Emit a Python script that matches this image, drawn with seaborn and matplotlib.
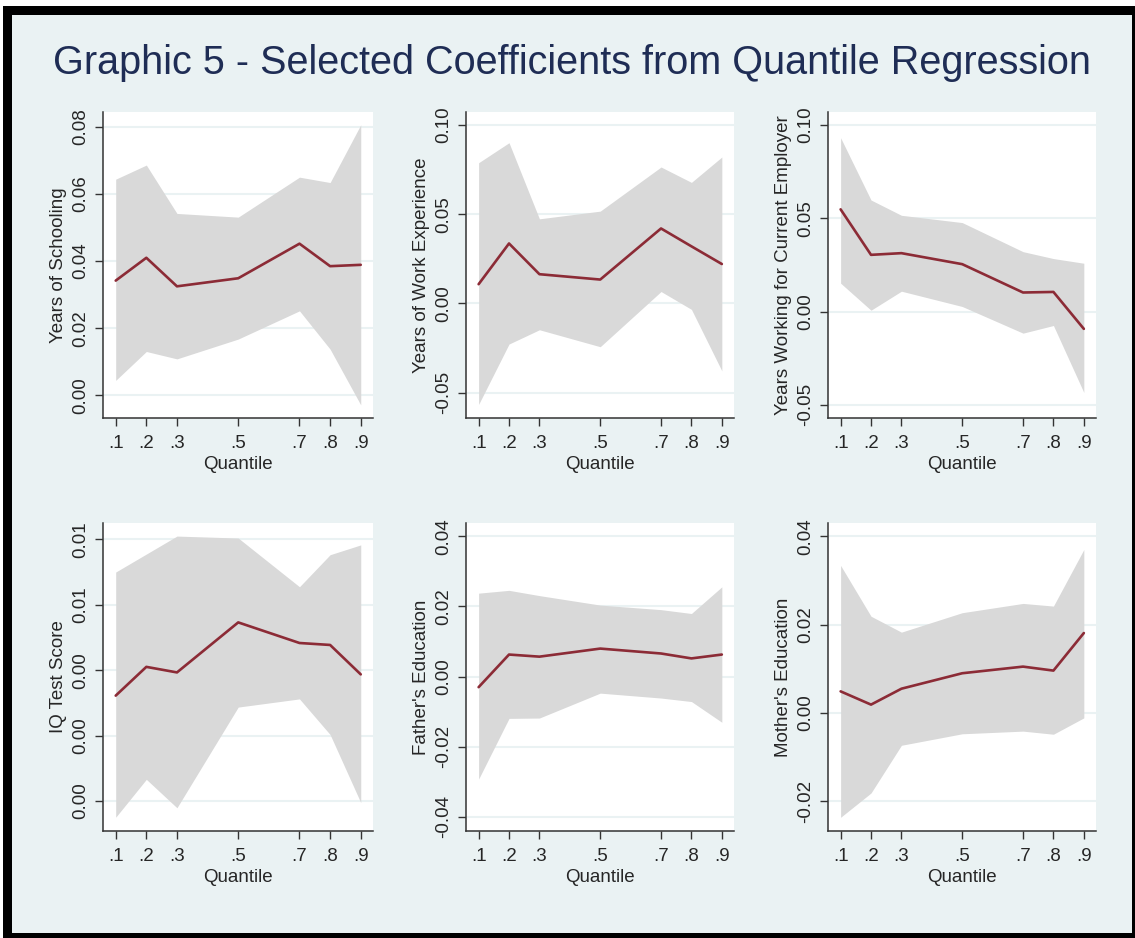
import numpy as np
import pandas as pd
import matplotlib
matplotlib.use("Agg")
import matplotlib.pyplot as plt
from matplotlib.patches import Rectangle
from matplotlib.ticker import FormatStrFormatter
import seaborn as sns

quantiles = [0.1, 0.2, 0.3, 0.5, 0.7, 0.8, 0.9]
quantile_labels = [".1", ".2", ".3", ".5", ".7", ".8", ".9"]

schooling_coef = [0.0342, 0.0410, 0.0325, 0.0349, 0.0452, 0.0385, 0.0389]
schooling_hi = [0.0644, 0.0686, 0.0542, 0.0531, 0.0650, 0.0634, 0.0806]
schooling_lo = [0.0045, 0.0131, 0.0109, 0.0168, 0.0252, 0.0138, -0.0028]

experience_coef = [0.0108, 0.0336, 0.0164, 0.0134, 0.0420, 0.0320, 0.0221]
experience_hi = [0.0788, 0.0900, 0.0474, 0.0517, 0.0764, 0.0678, 0.0820]
experience_lo = [-0.0565, -0.0227, -0.0147, -0.0242, 0.0067, -0.0033, -0.0377]

employer_coef = [0.0548, 0.0304, 0.0313, 0.0254, 0.0102, 0.0105, -0.0093]
employer_hi = [0.0932, 0.0598, 0.0516, 0.0477, 0.0321, 0.0284, 0.0259]
employer_lo = [0.0152, 0.0007, 0.0109, 0.0027, -0.0116, -0.0075, -0.0434]

iq_coef = [0.00322, 0.00410, 0.00393, 0.00546, 0.00483, 0.00477, 0.00387]
iq_hi = [0.00700, 0.00755, 0.00810, 0.00804, 0.00655, 0.00753, 0.00783]
iq_lo = [-0.00050, 0.00066, -0.00021, 0.00287, 0.00312, 0.00203, -0.00005]

father_coef = [-0.0030, 0.0063, 0.0057, 0.0080, 0.0066, 0.0052, 0.0063]
father_hi = [0.0238, 0.0246, 0.0231, 0.0204, 0.0191, 0.0180, 0.0256]
father_lo = [-0.0292, -0.0119, -0.0118, -0.0047, -0.0061, -0.0071, -0.0130]

mother_coef = [0.0049, 0.0019, 0.0055, 0.0090, 0.0105, 0.0096, 0.0181]
mother_hi = [0.0334, 0.0219, 0.0183, 0.0227, 0.0248, 0.0242, 0.0370]
mother_lo = [-0.0236, -0.0181, -0.0073, -0.0047, -0.0041, -0.0048, -0.0011]

panels = [
    ("Years of Schooling", schooling_coef, schooling_lo, schooling_hi,
     [0, 0.02, 0.04, 0.06, 0.08], (-0.0067, 0.0844)),
    ("Years of Work Experience", experience_coef, experience_lo, experience_hi,
     [-0.05, 0, 0.05, 0.10], (-0.0641, 0.1072)),
    ("Years Working for Current Employer", employer_coef, employer_lo, employer_hi,
     [-0.05, 0, 0.05, 0.10], (-0.0571, 0.107)),
    ("IQ Test Score", iq_coef, iq_lo, iq_hi,
     [0, 0.002, 0.004, 0.006, 0.008], (-0.00092, 0.0085)),
    ("Father's Education", father_coef, father_lo, father_hi,
     [-0.04, -0.02, 0, 0.02, 0.04], (-0.044, 0.0438)),
    ("Mother's Education", mother_coef, mother_lo, mother_hi,
     [-0.02, 0, 0.02, 0.04], (-0.0267, 0.043)),
]

sns.set_theme(style="white")
plt.rcParams["font.family"] = ["Liberation Sans", "DejaVu Sans"]

W, H = 1135, 938
bg = "#EAF2F3"
fig = plt.figure(figsize=(W / 100, H / 100), dpi=100, facecolor="white")

# frame
fig.patches.append(Rectangle((3 / W, 0), 1 - 3 / W, 1 - 6 / H, transform=fig.transFigure,
                             facecolor="black", edgecolor="none", zorder=-2))
fig.patches.append(Rectangle((12 / W, 5 / H), (1132 - 12) / W, (933 - 15) / H,
                             transform=fig.transFigure, facecolor=bg, edgecolor="none", zorder=-1))

fig.text(572 / W, 1 - 74 / H, "Graphic 5 - Selected Coefficients from Quantile Regression",
         ha="center", va="baseline", fontsize=28.5, color="#1F2D55")

cols = [(103, 373), (466, 734), (828, 1096)]
rows = [(112, 418), (523, 831)]

for i, (label, coef, lo, hi, yticks, ylim) in enumerate(panels):
    l, r = cols[i % 3]
    t, b = rows[i // 3]
    ax = fig.add_axes([l / W, 1 - b / H, (r - l) / W, (b - t) / H])
    ax.set_facecolor("white")
    df = pd.DataFrame({"q": quantiles, "coef": coef, "lo": lo, "hi": hi})
    ax.fill_between(df["q"], df["lo"], df["hi"], color="#D9D9D9", linewidth=0, zorder=2)
    sns.lineplot(data=df, x="q", y="coef", ax=ax, color="#8C2B36", linewidth=1.9, zorder=3)
    for yv in yticks:
        ax.axhline(yv, color=bg, linewidth=1.5, zorder=1)
    ax.set_xlim(0.0585, 0.94)
    ax.set_ylim(*ylim)
    ax.set_xticks(quantiles)
    ax.set_xticklabels(quantile_labels)
    ax.set_yticks(yticks)
    ax.yaxis.set_major_formatter(FormatStrFormatter("%.2f"))
    ax.set_xlabel("Quantile", fontsize=13.5, labelpad=3)
    ax.set_ylabel(label, fontsize=13.5, labelpad=4)
    ax.tick_params(axis="both", direction="out", length=6, width=1, color="#333333",
                   labelsize=13.5, left=True, bottom=True)
    ax.tick_params(axis="x", pad=6)
    ax.tick_params(axis="y", pad=4)
    plt.setp(ax.get_yticklabels(), rotation=90, va="center")
    for s in ["top", "right"]:
        ax.spines[s].set_visible(False)
    for s in ["left", "bottom"]:
        ax.spines[s].set_color("#333333")
        ax.spines[s].set_linewidth(1.1)
    ax.grid(False)

fig.savefig("out.png", dpi=100, facecolor=fig.get_facecolor())
